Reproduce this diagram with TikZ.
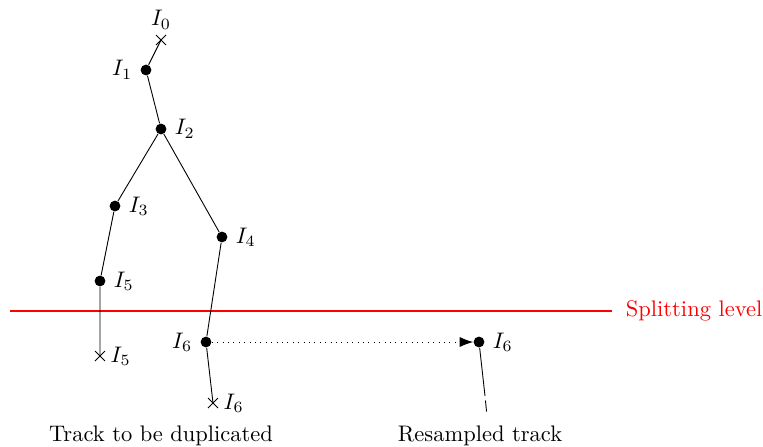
\documentclass[tikz,border=0pt]{standalone}
\usepackage{amsmath,amssymb}
\usetikzlibrary{arrows.meta,positioning}

\begin{document}
\begin{tikzpicture}[
    x=0.1562mm, y=-0.1562mm,
    pt/.style={circle, fill, inner sep=0pt, minimum size=4.8pt},
    kill/.style={inner sep=0pt, minimum size=0pt},
]
\useasboundingbox (0,0) rectangle (763,446);

% splitting level
\coordinate (sl) at (10,311);
\coordinate (sr) at (612,311);
\draw[red, line width=0.5pt] (sl) -- (sr);
\node[right=5pt of sr, text=red, inner sep=1pt] (sltext) {Splitting level};

% original track
\node[kill] (i0) at (161,40) {};
\node[pt] (i1) at (146,70) {};
\node[pt] (i2) at (161,129) {};
\node[pt] (i3) at (115,206) {};
\node[pt] (i4) at (222,237) {};
\node[pt] (i5) at (100,281) {};
\node[kill] (i5x) at (100,356) {};
\node[pt] (i6) at (206,342) {};
\node[kill] (i6x) at (213,403) {};

% crosses at killed ends
\foreach \c in {i0,i5x,i6x}
    \draw ([shift={(-5,-5)}]\c.center) -- ([shift={(5,5)}]\c.center)
          ([shift={(-5,5)}]\c.center) -- ([shift={(5,-5)}]\c.center);

% labels
\node[above=1pt of i0] (l0) {$I_0$};
\node[left=0pt of i1] (l1) {$I_1$};
\node[right=0pt of i2] (l2) {$I_2$};
\node[right=0pt of i3] (l3) {$I_3$};
\node[right=0pt of i4] (l4) {$I_4$};
\node[right=0pt of i5] (l5) {$I_5$};
\node[right=1pt of i5x] (l5x) {$I_5$};
\node[left=0pt of i6] (l6) {$I_6$};
\node[right=1pt of i6x] (l6x) {$I_6$};

% branches
\draw (i0) -- (i1) -- (i2) -- (i3) -- (i5) -- (i5x);
\draw (i2) -- (i4) -- (i6) -- (i6x);

% resampled track
\node[pt] (r6) at (479,342) {};
\node[right=0pt of r6] (lr6) {$I_6$};
\coordinate (rmid) at (485,396);
\coordinate (rend) at (487,416);
\draw (r6) -- (rmid);
\draw[dash pattern=on 0pt off 2pt on 5pt off 2pt] (rmid) -- (rend);
\draw[dotted, -{Latex[length=6pt]}] (i6) -- (r6);

% captions
\node (cap1) at (161,436) {Track to be duplicated};
\node (cap2) at (480,436) {Resampled track};
\end{tikzpicture}
\end{document}
